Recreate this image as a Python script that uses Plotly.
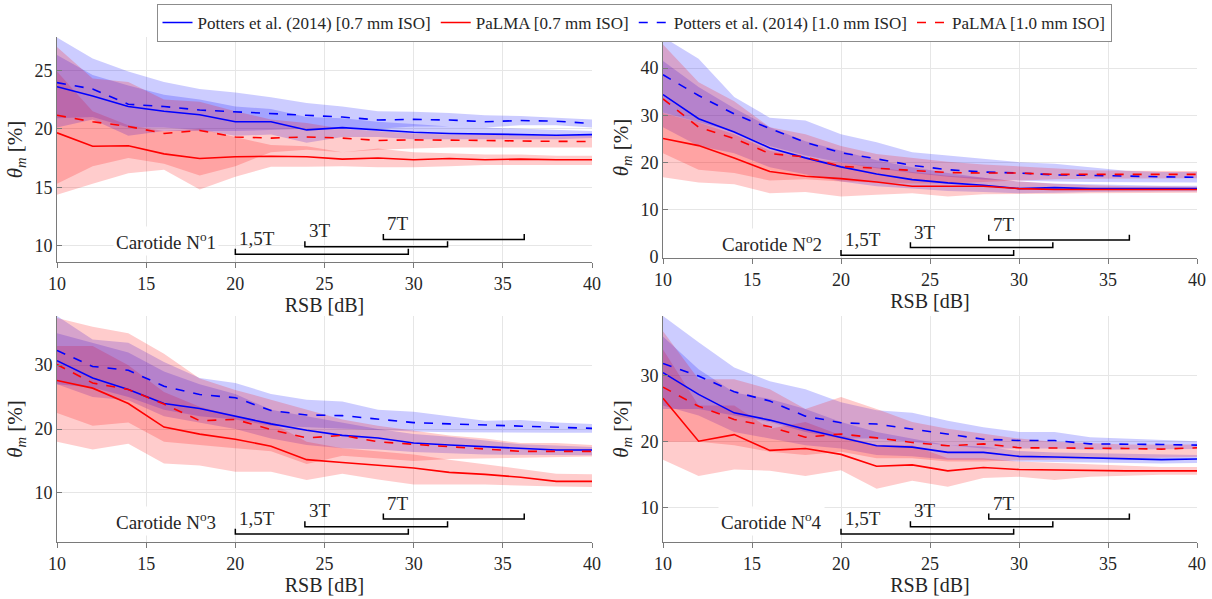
import plotly.graph_objects as go

rsb = [10, 12, 14, 16, 18, 20, 22, 24, 26, 28, 30, 32, 34, 36, 38, 40]

series_names = ["Potters et al. (2014) [0.7 mm ISO]", "PaLMA [0.7 mm ISO]",
                "Potters et al. (2014) [1.0 mm ISO]", "PaLMA [1.0 mm ISO]"]

# ---- Carotide N°1 ----
c1_pot07 = [23.6, 22.8, 21.9, 21.5, 21.2, 20.6, 20.6, 19.9, 20.1, 19.9, 19.7, 19.6, 19.55, 19.5, 19.45, 19.5]
c1_pot07_lo = [20.9, 21.0, 20.1, 20.1, 19.9, 19.4, 19.5, 18.8, 19.3, 19.3, 19.1, 19.1, 19.1, 19.1, 19.1, 19.2]
c1_pot07_hi = [26.3, 24.6, 23.7, 22.9, 22.5, 21.9, 21.7, 21.0, 20.9, 20.6, 20.4, 20.2, 20.1, 20.0, 19.9, 19.8]
c1_pot10 = [23.95, 23.4, 22.1, 21.9, 21.6, 21.45, 21.3, 21.1, 21.0, 20.75, 20.8, 20.75, 20.6, 20.7, 20.65, 20.45]
c1_pot10_lo = [20.1, 20.8, 19.4, 19.8, 19.8, 19.8, 19.9, 20.0, 20.1, 20.0, 20.2, 20.2, 20.1, 20.3, 20.3, 20.1]
c1_pot10_hi = [27.8, 26.0, 24.9, 24.0, 23.4, 23.1, 22.7, 22.2, 21.9, 21.5, 21.45, 21.35, 21.15, 21.1, 20.95, 20.8]
c1_pal07 = [19.65, 18.5, 18.55, 17.85, 17.45, 17.6, 17.65, 17.6, 17.4, 17.5, 17.35, 17.45, 17.35, 17.4, 17.35, 17.35]
c1_pal07_lo = [14.35, 15.3, 16.2, 16.5, 14.8, 15.9, 16.75, 16.75, 16.8, 16.7, 16.7, 16.8, 16.9, 16.9, 16.9, 16.9]
c1_pal07_hi = [24.9, 21.5, 20.3, 19.8, 20.0, 19.3, 18.6, 18.5, 18.0, 18.3, 18.0, 17.9, 17.8, 17.8, 17.7, 17.7]
c1_pal10 = [21.15, 20.6, 20.2, 19.6, 19.85, 19.3, 19.2, 19.3, 19.2, 19.0, 19.05, 19.05, 19.0, 18.95, 18.95, 18.9]
c1_pal10_lo = [15.3, 16.8, 17.5, 17.0, 16.0, 16.8, 18.0, 18.2, 18.0, 18.2, 18.3, 18.4, 18.4, 18.4, 18.4, 18.4]
c1_pal10_hi = [27.0, 24.3, 24.0, 22.5, 22.3, 21.5, 20.8, 20.5, 20.0, 19.8, 19.6, 19.5, 19.5, 19.4, 19.4, 19.4]

# ---- Carotide N°2 ----
c2_pot07 = [34.4, 29.3, 26.5, 23.1, 21.0, 19.1, 17.6, 16.4, 15.7, 15.2, 14.5, 14.7, 14.5, 14.5, 14.5, 14.5]
c2_pot07_lo = [27.5, 23.5, 22.0, 19.0, 17.5, 16.0, 15.0, 14.5, 14.0, 13.8, 13.5, 13.6, 13.8, 13.9, 13.9, 13.9]
c2_pot07_hi = [41.5, 36.0, 31.5, 27.5, 24.5, 22.5, 20.5, 19.0, 17.8, 16.8, 16.0, 15.6, 15.4, 15.2, 15.1, 15.1]
c2_pot10 = [38.6, 34.2, 30.3, 27.2, 24.3, 22.1, 20.8, 19.4, 18.5, 18.0, 17.8, 17.4, 17.3, 17.1, 17.0, 16.9]
c2_pot10_lo = [30.6, 28.5, 26.5, 23.5, 21.5, 20.0, 18.8, 17.8, 17.0, 16.4, 16.2, 16.0, 15.9, 15.8, 15.8, 15.8]
c2_pot10_hi = [46.6, 42.0, 33.9, 29.5, 28.9, 26.0, 24.3, 22.2, 21.5, 20.8, 20.1, 19.75, 19.0, 18.3, 18.0, 18.0]
c2_pal07 = [25.1, 23.6, 21.0, 18.1, 17.1, 16.6, 15.9, 15.0, 15.0, 15.0, 14.5, 14.3, 14.3, 14.3, 14.3, 14.3]
c2_pal07_lo = [16.9, 15.8, 15.4, 13.5, 13.8, 12.8, 13.2, 13.5, 12.8, 13.3, 13.3, 13.4, 13.5, 13.6, 13.6, 13.6]
c2_pal07_hi = [30.5, 28.5, 26.0, 22.5, 21.0, 20.0, 19.0, 18.0, 17.2, 16.8, 16.0, 15.5, 15.2, 15.0, 15.0, 14.9]
c2_pal10 = [33.5, 27.5, 25.1, 21.9, 21.2, 19.2, 18.8, 18.3, 17.9, 17.8, 17.8, 17.5, 17.5, 17.6, 17.5, 17.5]
c2_pal10_lo = [22.0, 18.5, 17.8, 16.2, 16.5, 16.0, 15.8, 15.6, 15.6, 16.0, 16.2, 16.5, 16.6, 16.7, 16.7, 16.7]
c2_pal10_hi = [45.0, 37.0, 33.0, 27.5, 26.0, 23.5, 21.8, 21.0, 20.2, 19.6, 19.2, 18.8, 18.4, 18.3, 18.2, 18.2]

# ---- Carotide N°3 ----
c3_pot07 = [30.7, 28.0, 26.2, 24.0, 23.2, 22.0, 20.8, 19.8, 19.0, 18.6, 17.8, 17.5, 17.2, 16.9, 16.7, 16.7]
c3_pot07_lo = [27.0, 25.0, 24.5, 22.0, 21.0, 20.0, 18.5, 17.5, 17.0, 16.8, 16.4, 16.2, 16.0, 16.0, 15.9, 15.9]
c3_pot07_hi = [35.0, 33.5, 32.0, 29.0, 27.0, 25.5, 23.0, 22.0, 21.0, 20.0, 19.2, 18.8, 18.2, 17.6, 17.4, 17.2]
c3_pot10 = [32.3, 29.8, 29.2, 26.7, 25.4, 24.9, 22.9, 22.2, 22.1, 21.5, 21.0, 20.8, 20.6, 20.4, 20.3, 20.1]
c3_pot10_lo = [27.0, 26.5, 25.0, 23.0, 22.0, 21.5, 20.5, 20.3, 20.0, 19.8, 19.6, 19.5, 19.4, 19.4, 19.4, 19.4]
c3_pot10_hi = [37.7, 34.0, 33.5, 30.5, 28.0, 27.2, 25.5, 24.6, 24.3, 23.0, 22.7, 22.0, 21.3, 21.4, 21.0, 20.8]
c3_pal07 = [27.6, 26.4, 24.0, 20.3, 19.2, 18.4, 17.3, 15.2, 14.75, 14.3, 13.9, 13.2, 12.9, 12.45, 11.8, 11.8]
c3_pal07_lo = [18.0, 16.8, 17.7, 14.6, 14.3, 13.3, 13.3, 12.0, 13.0, 12.1, 11.3, 11.3, 11.3, 11.2, 11.0, 10.9]
c3_pal07_hi = [33.0, 33.0, 30.0, 25.8, 23.5, 22.0, 21.0, 18.0, 17.0, 16.5, 16.0, 15.2, 14.5, 13.8, 13.0, 12.9]
c3_pal10 = [30.1, 27.2, 26.2, 23.9, 21.3, 21.5, 19.9, 18.6, 19.0, 18.0, 17.6, 17.2, 16.8, 16.5, 16.5, 16.5]
c3_pal10_lo = [22.5, 20.5, 21.0, 18.0, 17.5, 17.0, 16.5, 14.5, 15.8, 15.4, 15.0, 15.3, 15.5, 15.5, 15.6, 15.7]
c3_pal10_hi = [37.4, 36.0, 35.0, 31.8, 27.9, 26.1, 24.6, 23.0, 21.5, 20.5, 19.8, 19.0, 18.5, 17.8, 17.8, 17.5]

# ---- Carotide N°4 ----
c4_pot07 = [30.5, 27.2, 24.4, 23.3, 21.9, 20.6, 19.4, 19.2, 18.4, 18.4, 17.8, 17.7, 17.6, 17.5, 17.3, 17.4]
c4_pot07_lo = [25.5, 24.0, 21.5, 20.5, 19.5, 19.0, 18.0, 17.8, 17.3, 17.3, 17.0, 17.0, 16.9, 16.8, 16.7, 16.8]
c4_pot07_hi = [36.0, 31.0, 27.5, 26.5, 25.0, 23.0, 21.5, 20.5, 19.5, 19.3, 18.6, 18.4, 18.3, 18.1, 18.0, 18.0]
c4_pot10 = [31.9, 30.0, 27.6, 26.2, 23.9, 22.9, 22.7, 21.9, 21.1, 20.4, 20.2, 20.2, 19.7, 19.7, 19.6, 19.5]
c4_pot10_lo = [25.0, 25.0, 24.0, 23.0, 21.5, 20.5, 20.5, 20.0, 19.5, 19.0, 19.0, 19.0, 18.8, 18.8, 18.9, 18.9]
c4_pot10_hi = [39.1, 35.1, 31.3, 29.2, 28.0, 26.0, 24.8, 24.4, 23.2, 22.2, 21.5, 21.5, 20.7, 20.5, 20.2, 20.1]
c4_pal07 = [26.6, 20.1, 21.1, 18.7, 19.0, 18.1, 16.3, 16.5, 15.6, 16.1, 15.8, 15.7, 15.6, 15.6, 15.6, 15.6]
c4_pal07_lo = [17.3, 14.8, 15.8, 15.6, 14.8, 15.7, 12.9, 14.1, 13.2, 14.5, 14.7, 14.2, 14.7, 14.9, 15.0, 15.0]
c4_pal07_hi = [34.0, 25.5, 25.5, 22.0, 23.0, 21.0, 19.5, 19.5, 17.5, 17.5, 17.0, 16.8, 16.5, 16.3, 16.2, 16.2]
c4_pal10 = [28.3, 25.4, 23.4, 22.3, 20.7, 21.2, 20.6, 19.9, 19.4, 19.7, 19.1, 19.1, 19.0, 19.0, 18.9, 19.1]
c4_pal10_lo = [20.0, 20.0, 19.5, 18.5, 18.0, 18.5, 17.5, 17.5, 17.0, 17.0, 17.2, 17.3, 17.5, 17.6, 17.6, 17.7]
c4_pal10_hi = [36.8, 29.5, 29.5, 28.0, 25.0, 26.8, 25.0, 23.0, 22.0, 21.2, 20.5, 20.0, 19.8, 19.6, 19.6, 19.6]

carotid_labels = ["Carotide N<sup>o</sup>1", "Carotide N<sup>o</sup>2",
                  "Carotide N<sup>o</sup>3", "Carotide N<sup>o</sup>4"]
y_ticks = [[10, 15, 20, 25], [0, 10, 20, 30, 40], [10, 20, 30], [10, 20, 30]]
y_ranges = [[8.6, 27.85], [-0.2, 46.6], [2.3, 37.7], [4.8, 39.1]]
x_ticks = [10, 15, 20, 25, 30, 35, 40]

# field ranges (dB) for the 1,5T / 3T / 7T brackets
field_labels = ["1,5T", "3T", "7T"]
field_start = [20.0, 23.9, 28.3]
field_end = [29.7, 31.9, 36.2]

panels = [
    [(c1_pot07, c1_pot07_lo, c1_pot07_hi), (c1_pal07, c1_pal07_lo, c1_pal07_hi),
     (c1_pot10, c1_pot10_lo, c1_pot10_hi), (c1_pal10, c1_pal10_lo, c1_pal10_hi)],
    [(c2_pot07, c2_pot07_lo, c2_pot07_hi), (c2_pal07, c2_pal07_lo, c2_pal07_hi),
     (c2_pot10, c2_pot10_lo, c2_pot10_hi), (c2_pal10, c2_pal10_lo, c2_pal10_hi)],
    [(c3_pot07, c3_pot07_lo, c3_pot07_hi), (c3_pal07, c3_pal07_lo, c3_pal07_hi),
     (c3_pot10, c3_pot10_lo, c3_pot10_hi), (c3_pal10, c3_pal10_lo, c3_pal10_hi)],
    [(c4_pot07, c4_pot07_lo, c4_pot07_hi), (c4_pal07, c4_pal07_lo, c4_pal07_hi),
     (c4_pot10, c4_pot10_lo, c4_pot10_hi), (c4_pal10, c4_pal10_lo, c4_pal10_hi)],
]

W, H = 1212, 599
FONT = "Liberation Serif, serif"
TXT = "#262626"
line_colors = ["rgb(0,0,255)", "rgb(255,0,0)", "rgb(0,0,255)", "rgb(255,0,0)"]
fill_colors = ["rgba(0,0,255,0.2)", "rgba(255,0,0,0.2)", "rgba(0,0,255,0.2)", "rgba(255,0,0,0.2)"]
dashes = ["solid", "solid", "dash", "dash"]

# pixel boxes [left, right, top, bottom]
boxes = [(57, 592, 37, 262), (663, 1197, 37, 258), (57, 592, 316, 542), (663, 1197, 316, 542)]
# bracket base heights in axis-domain fraction
bracket_base = [[0.035, 0.068, 0.100], [0.012, 0.047, 0.081],
                [0.035, 0.068, 0.102], [0.035, 0.068, 0.102]]

fig = go.Figure()
layout = dict(width=W, height=H, margin=dict(l=0, r=0, t=0, b=0, autoexpand=False),
              plot_bgcolor="white", paper_bgcolor="white",
              font=dict(family=FONT, size=17, color=TXT))
shapes = []
annotations = []

for p in range(4):
    sfx = "" if p == 0 else str(p + 1)
    xa, ya = "x" + sfx, "y" + sfx
    for s in range(4):
        m, lo, hi = panels[p][s]
        fig.add_trace(go.Scatter(x=rsb + rsb[::-1], y=hi + lo[::-1], xaxis=xa, yaxis=ya,
                                 fill="toself", fillcolor=fill_colors[s], line=dict(width=0),
                                 mode="lines", showlegend=False, hoverinfo="skip"))
    for s in range(4):
        m, lo, hi = panels[p][s]
        fig.add_trace(go.Scatter(x=rsb, y=m, xaxis=xa, yaxis=ya, mode="lines",
                                 line=dict(color=line_colors[s], width=1.6, dash=dashes[s]),
                                 name=series_names[s], showlegend=(p == 0),
                                 legendrank=s))
    l, r, t, b = boxes[p]
    layout["xaxis" + sfx] = dict(domain=[l / W, r / W], anchor=ya, range=[10, 40],
                                 tickvals=x_ticks, showgrid=True, gridcolor="#e6e6e6",
                                 showline=True, linecolor="#7a7a7a", linewidth=1,
                                 ticks="outside", ticklen=5, tickcolor="#7a7a7a",
                                 zeroline=False, automargin=False,
                                 tickfont=dict(family=FONT, size=18, color=TXT),
                                 title=dict(text="RSB [dB]", font=dict(family=FONT, size=20, color=TXT),
                                            standoff=4))
    layout["yaxis" + sfx] = dict(domain=[1 - b / H, 1 - t / H], anchor=xa, range=y_ranges[p],
                                 tickvals=y_ticks[p], showgrid=True, gridcolor="#e6e6e6",
                                 showline=True, linecolor="#7a7a7a", linewidth=1,
                                 ticks="inside", ticklen=5, tickcolor="#7a7a7a",
                                 zeroline=False, automargin=False,
                                 tickfont=dict(family=FONT, size=18, color=TXT),
                                 title=dict(text="<i>θ</i><sub><i>m</i></sub> [%]",
                                            font=dict(family=FONT, size=21, color=TXT), standoff=6))
    yd = ya + " domain"
    base = bracket_base[p]
    for k in range(3):
        x0, x1, y0 = field_start[k], field_end[k], base[k]
        shapes.append(dict(type="path", xref=xa, yref=yd,
                           path=f"M {x0},{y0 + 0.024} L {x0},{y0} L {x1},{y0} L {x1},{y0 + 0.024}",
                           line=dict(color="black", width=1.5), layer="above"))
        annotations.append(dict(text=field_labels[k], x=x0 + 0.1, y=y0 + 0.07, xref=xa, yref=yd,
                                xanchor="left", yanchor="middle", showarrow=False,
                                font=dict(family=FONT, size=19, color=TXT)))
    annotations.append(dict(text=carotid_labels[p], x=19.1, y=base[0] + 0.057, xref=xa, yref=yd,
                            xanchor="right", yanchor="middle", showarrow=False, bgcolor="white",
                            borderpad=2, font=dict(family=FONT, size=19, color=TXT)))

layout["shapes"] = shapes
layout["annotations"] = annotations
layout["legend"] = dict(orientation="h", x=634 / W, xanchor="center", y=1 - 4 / H, yanchor="top",
                        bordercolor="#8c8c8c", borderwidth=1, bgcolor="white",
                        font=dict(family=FONT, size=17, color=TXT), tracegroupgap=0,
                        itemwidth=30, traceorder="normal")
fig.update_layout(**layout)
fig.write_html("out.html", config={"displayModeBar": False},
               post_script="document.body.style.margin='0px';")
